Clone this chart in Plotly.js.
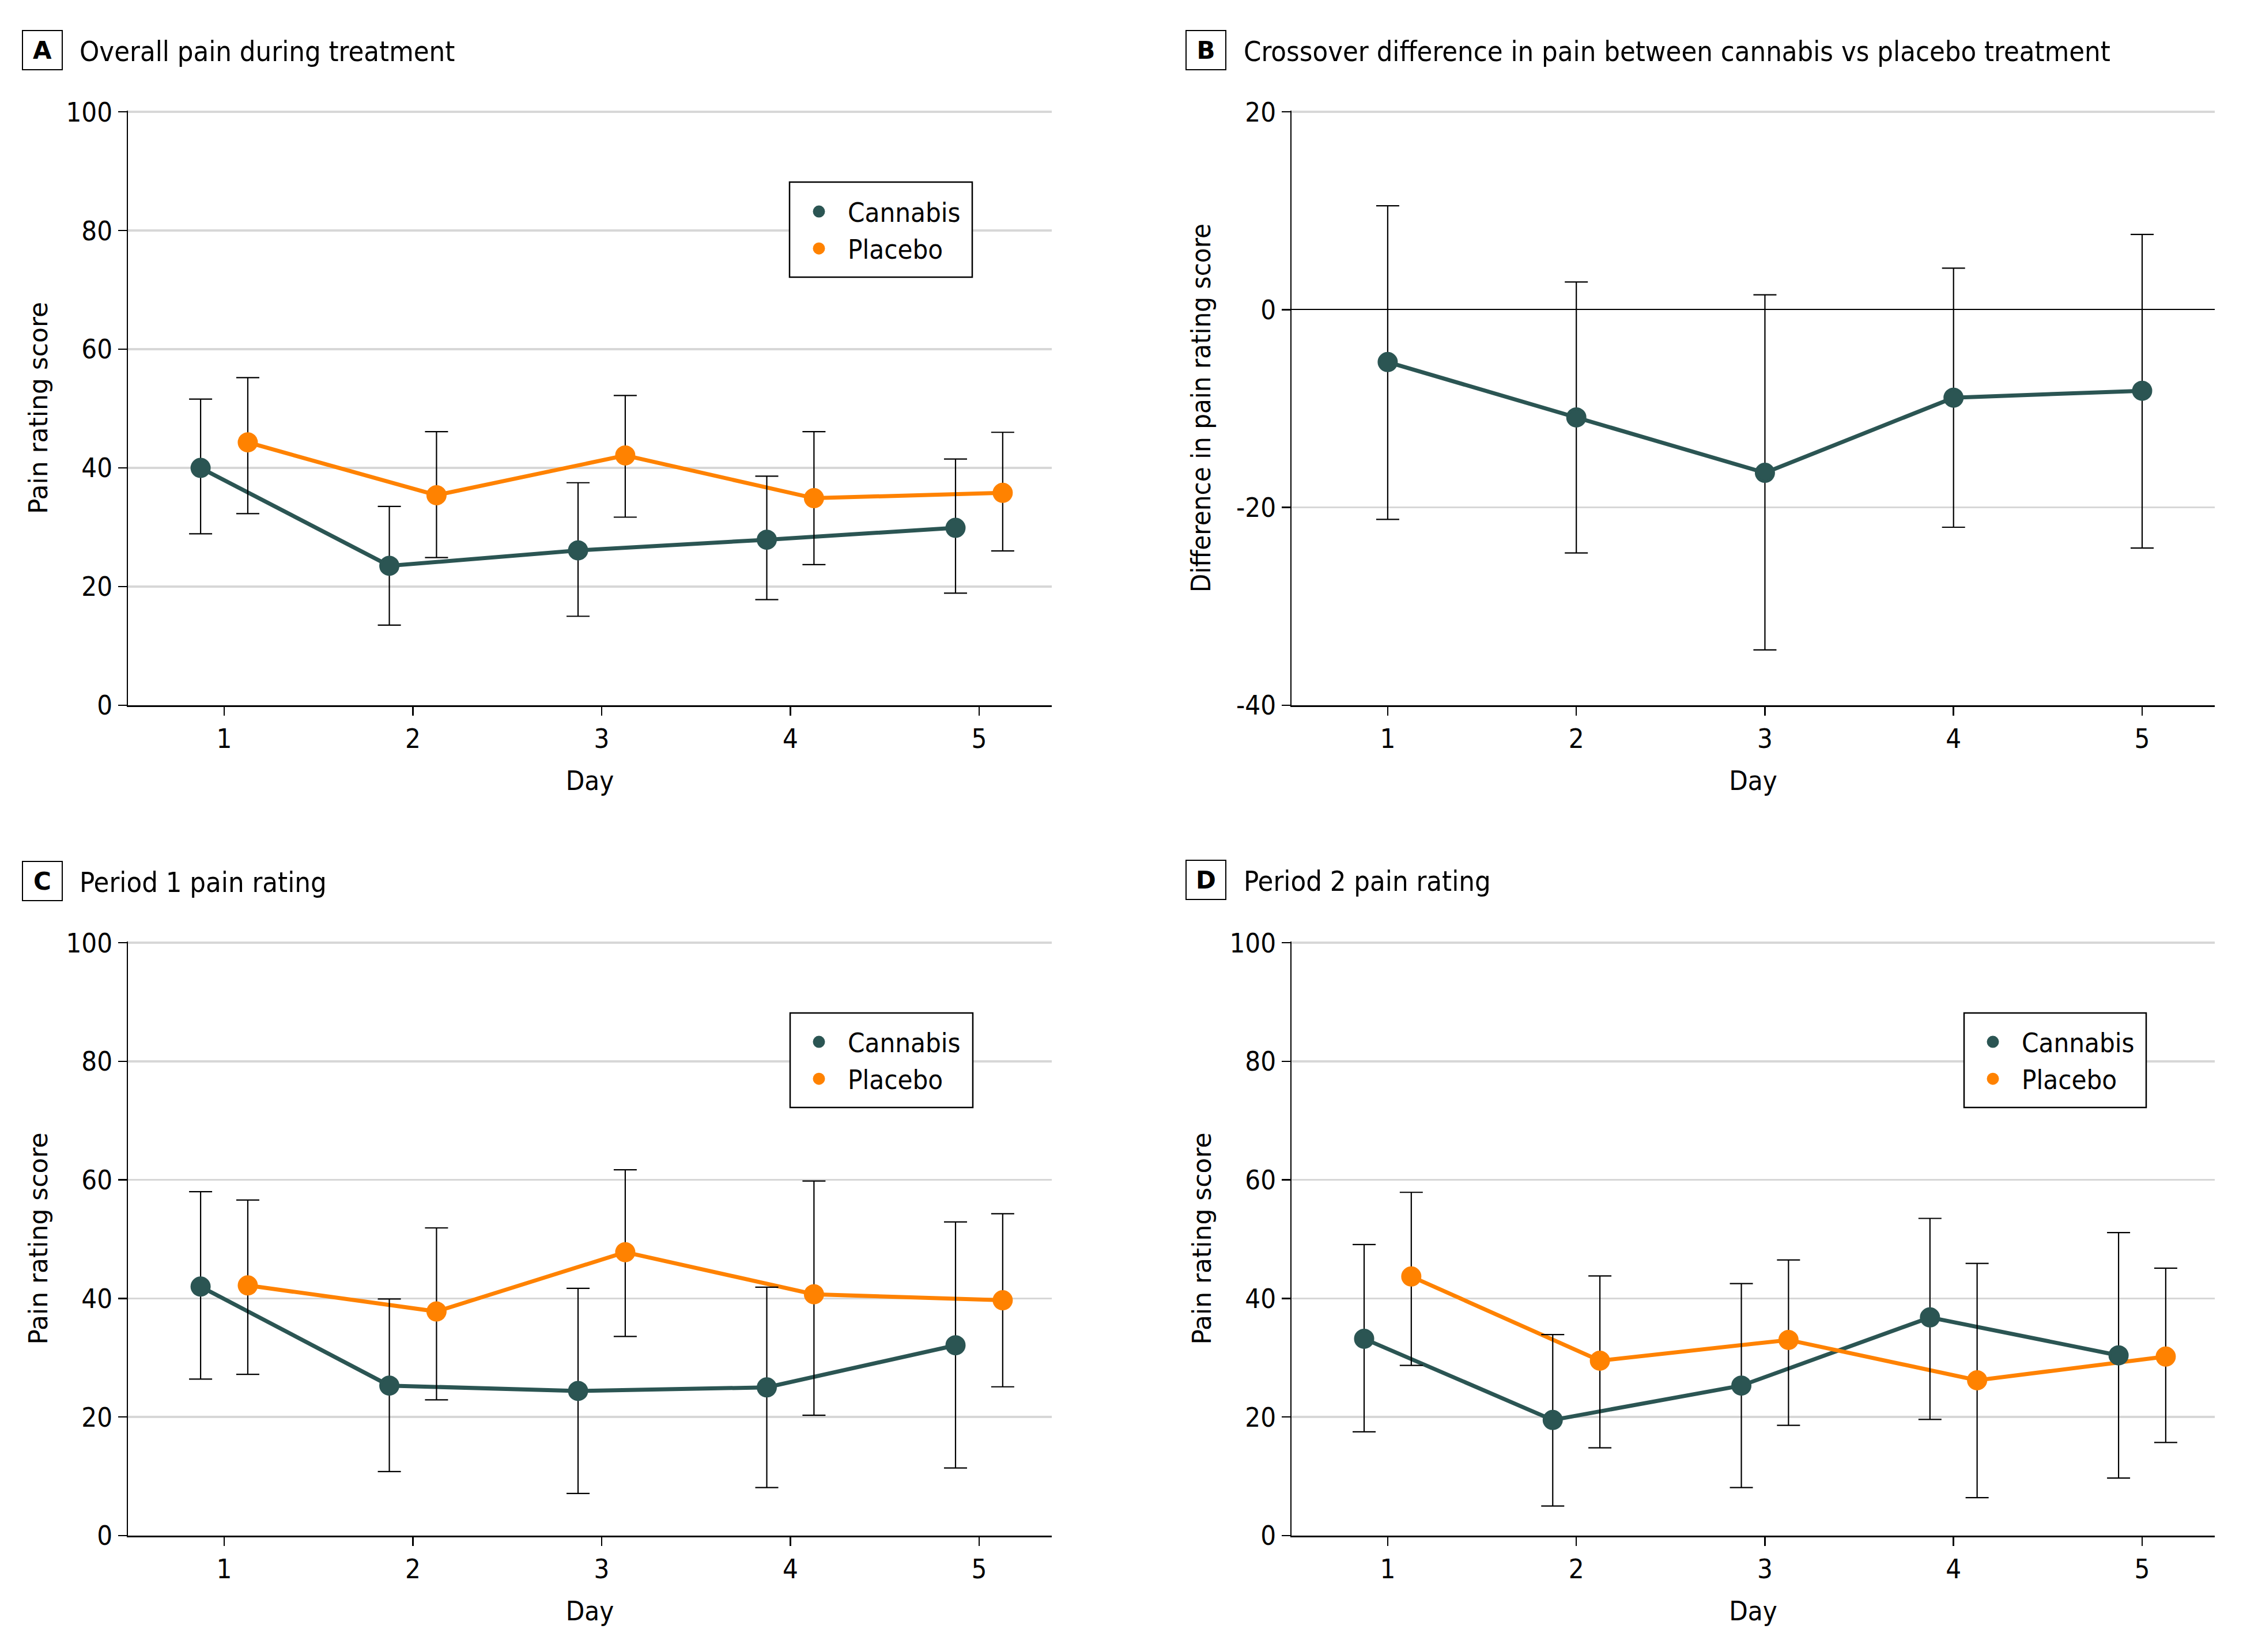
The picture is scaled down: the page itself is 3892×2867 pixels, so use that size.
<!DOCTYPE html>
<html>
<head>
<meta charset="utf-8">
<script src="https://cdn.plot.ly/plotly-3.0.1.min.js"></script>
<style>
html, body { margin: 0; padding: 0; background: #ffffff; }
#chart { width: 3892px; height: 2867px; }
</style>
</head>
<body>
<div id="chart"></div>
<script>
// ---------------- data ----------------
const days = [1, 2, 3, 4, 5];
const dayTickLabels = ['1', '2', '3', '4', '5'];
const painTicks = [0, 20, 40, 60, 80, 100];
const painTickLabels = ['0', '20', '40', '60', '80', '100'];
const diffTicks = [-40, -20, 0, 20];
const diffTickLabels = ['-40', '-20', '0', '20'];
const seriesNames = ['Cannabis', 'Placebo'];

// Panel A: overall pain during treatment
const aCannabisMean  = [40.0, 23.5, 26.1, 27.9, 29.9];
const aCannabisLower = [28.9, 13.5, 15.0, 17.8, 18.9];
const aCannabisUpper = [51.6, 33.5, 37.5, 38.6, 41.5];
const aPlaceboMean   = [44.3, 35.4, 42.1, 34.9, 35.8];
const aPlaceboLower  = [32.3, 24.9, 31.7, 23.7, 26.0];
const aPlaceboUpper  = [55.2, 46.1, 52.2, 46.1, 46.0];

// Panel B: crossover difference (cannabis - placebo)
const bDiffMean  = [-5.3, -10.9, -16.5, -8.9, -8.2];
const bDiffLower = [-21.2, -24.6, -34.4, -22.0, -24.1];
const bDiffUpper = [10.5, 2.8, 1.5, 4.2, 7.6];

// Panel C: period 1
const cCannabisMean  = [42.0, 25.3, 24.4, 25.0, 32.1];
const cCannabisLower = [26.4, 10.8, 7.1, 8.1, 11.4];
const cCannabisUpper = [58.0, 39.9, 41.7, 41.9, 52.9];
const cPlaceboMean   = [42.2, 37.8, 47.8, 40.7, 39.7];
const cPlaceboLower  = [27.2, 22.9, 33.6, 20.3, 25.1];
const cPlaceboUpper  = [56.6, 51.9, 61.7, 59.8, 54.3];

// Panel D: period 2
const dCannabisMean  = [33.2, 19.5, 25.3, 36.8, 30.4];
const dCannabisLower = [17.5, 5.0, 8.1, 19.6, 9.7];
const dCannabisUpper = [49.1, 33.9, 42.5, 53.5, 51.1];
const dPlaceboMean   = [43.7, 29.5, 33.0, 26.2, 30.2];
const dPlaceboLower  = [28.7, 14.8, 18.6, 6.4, 15.7];
const dPlaceboUpper  = [57.9, 43.8, 46.5, 45.9, 45.1];

// ---------------- style ----------------
const W = 3892, H = 2867;
const COND = "'DejaVu Sans Condensed', 'DejaVu Sans', sans-serif";
const WIDE = "'DejaVu Sans', sans-serif";
const CANNABIS = '#2b5553';
const PLACEBO = '#ff8200';
const GRID = '#d7d7d7';
const DODGE = 0.125;

function px(x) { return x / W; }
function py(y) { return 1 - y / H; }

function lineTrace(xa, ya, xs, ys, color) {
  return {
    type: 'scatter', mode: 'lines', x: xs, y: ys, xaxis: xa, yaxis: ya,
    line: { color: color, width: 7 }, showlegend: false, hoverinfo: 'skip'
  };
}
function markerTrace(xa, ya, xs, mean, lower, upper, color, name, legendId, show) {
  return {
    type: 'scatter', mode: 'markers', name: name, x: xs, y: mean, xaxis: xa, yaxis: ya,
    marker: { color: color, size: 30, line: { color: color, width: 5 } },
    error_y: {
      type: 'data', symmetric: false,
      array: upper.map((u, i) => u - mean[i]),
      arrayminus: lower.map((l, i) => mean[i] - l),
      color: '#000000', thickness: 2.2, width: 20
    },
    showlegend: show, legend: legendId
  };
}

const xLeft = days.map(d => d - DODGE);
const xRight = days.map(d => d + DODGE);

const traces = [
  // A
  lineTrace('x', 'y', xLeft, aCannabisMean, CANNABIS),
  lineTrace('x', 'y', xRight, aPlaceboMean, PLACEBO),
  markerTrace('x', 'y', xLeft, aCannabisMean, aCannabisLower, aCannabisUpper, CANNABIS, seriesNames[0], 'legend', true),
  markerTrace('x', 'y', xRight, aPlaceboMean, aPlaceboLower, aPlaceboUpper, PLACEBO, seriesNames[1], 'legend', true),
  // B
  lineTrace('x2', 'y2', days, bDiffMean, CANNABIS),
  markerTrace('x2', 'y2', days, bDiffMean, bDiffLower, bDiffUpper, CANNABIS, 'Difference', 'legend', false),
  // C
  lineTrace('x3', 'y3', xLeft, cCannabisMean, CANNABIS),
  lineTrace('x3', 'y3', xRight, cPlaceboMean, PLACEBO),
  markerTrace('x3', 'y3', xLeft, cCannabisMean, cCannabisLower, cCannabisUpper, CANNABIS, seriesNames[0], 'legend2', true),
  markerTrace('x3', 'y3', xRight, cPlaceboMean, cPlaceboLower, cPlaceboUpper, PLACEBO, seriesNames[1], 'legend2', true),
  // D
  lineTrace('x4', 'y4', xLeft, dCannabisMean, CANNABIS),
  lineTrace('x4', 'y4', xRight, dPlaceboMean, PLACEBO),
  markerTrace('x4', 'y4', xLeft, dCannabisMean, dCannabisLower, dCannabisUpper, CANNABIS, seriesNames[0], 'legend3', true),
  markerTrace('x4', 'y4', xRight, dPlaceboMean, dPlaceboLower, dPlaceboUpper, PLACEBO, seriesNames[1], 'legend3', true)
];

const tickFont = { family: COND, size: 47, color: '#000' };

function xAxis(domain, anchor) {
  return {
    domain: domain, anchor: anchor, range: [0.49, 5.385],
    tickmode: 'array', tickvals: days, ticktext: dayTickLabels,
    showline: true, linecolor: '#000', linewidth: 2.5,
    ticks: 'outside', ticklen: 15, tickwidth: 2.5, tickcolor: '#000',
    showgrid: false, zeroline: false, tickfont: tickFont,
    title: { text: 'Day', font: { family: COND, size: 47, color: '#000' }, standoff: 30 },
    fixedrange: true
  };
}
function yAxis(domain, anchor, range, vals, labels, titleText, titleFamily, titleSize, zero, standoff) {
  return {
    domain: domain, anchor: anchor, range: range,
    tickmode: 'array', tickvals: vals, ticktext: labels,
    showline: true, linecolor: '#000', linewidth: 2.5,
    ticks: 'outside', ticklen: 15, tickwidth: 2.5, tickcolor: '#000',
    showgrid: true, gridcolor: GRID, gridwidth: 3.5,
    zeroline: zero, zerolinecolor: '#000', zerolinewidth: 2,
    tickfont: tickFont,
    title: { text: titleText, font: { family: titleFamily, size: titleSize, color: '#000' }, standoff: standoff },
    fixedrange: true
  };
}

const colL = [px(222), px(1825)];
const colR = [px(2241), px(3843)];
const rowT = [py(1224), py(192)];
const rowB = [py(2665), py(1634)];

function panelLabel(letter, cx, cy) {
  return {
    xref: 'paper', yref: 'paper', x: px(cx), y: py(cy), xanchor: 'center', yanchor: 'middle',
    text: '<b>' + letter + '</b>', showarrow: false,
    font: { family: WIDE, size: 42, color: '#000' },
    width: 67, height: 66, bordercolor: '#000', borderwidth: 2, borderpad: 0
  };
}
function panelTitle(text, lx, cy) {
  return {
    xref: 'paper', yref: 'paper', x: px(lx), y: py(cy), xanchor: 'left', yanchor: 'middle',
    text: text, showarrow: false, font: { family: COND, size: 48.5, color: '#000' }
  };
}
function legendBox(x0, y0, x1, y1) {
  return {
    type: 'rect', xref: 'paper', yref: 'paper', x0: px(x0), x1: px(x1), y0: py(y0), y1: py(y1),
    line: { color: '#000', width: 2.5 }, fillcolor: '#ffffff', layer: 'above'
  };
}
function legendCfg(lx, ty) {
  return {
    x: px(lx), y: py(ty), xanchor: 'left', yanchor: 'top',
    bgcolor: 'rgba(0,0,0,0)', borderwidth: 0, itemwidth: 90,
    font: { family: COND, size: 47, color: '#000' }, tracegroupgap: 0
  };
}

const layout = {
  width: W, height: H, autosize: false,
  margin: { l: 0, r: 0, t: 0, b: 0, pad: 0 },
  paper_bgcolor: '#ffffff', plot_bgcolor: '#ffffff',
  showlegend: true,
  font: { family: COND, size: 47, color: '#000' },
  xaxis: xAxis(colL, 'y'),
  yaxis: yAxis(rowT, 'x', [0, 100.2], painTicks, painTickLabels, 'Pain rating score', WIDE, 44, false, 18),
  xaxis2: xAxis(colR, 'y2'),
  yaxis2: yAxis(rowT, 'x2', [-40, 20.12], diffTicks, diffTickLabels, 'Difference in pain rating score', COND, 47, true, 30),
  xaxis3: xAxis(colL, 'y3'),
  yaxis3: yAxis(rowB, 'x3', [0, 100.2], painTicks, painTickLabels, 'Pain rating score', WIDE, 44, false, 18),
  xaxis4: xAxis(colR, 'y4'),
  yaxis4: yAxis(rowB, 'x4', [0, 100.2], painTicks, painTickLabels, 'Pain rating score', WIDE, 44, false, 18),
  legend: legendCfg(1371, 330),
  legend2: legendCfg(1371, 1771),
  legend3: legendCfg(3408, 1771),
  shapes: [
    legendBox(1370, 316, 1687, 481),
    legendBox(1371, 1758, 1688, 1922),
    legendBox(3408, 1758, 3724, 1922)
  ],
  annotations: [
    panelLabel('A', 73, 87),
    panelTitle('Overall pain during treatment', 136, 89),
    panelLabel('B', 2092, 87),
    panelTitle('Crossover difference in pain between cannabis vs placebo treatment', 2156, 89),
    panelLabel('C', 73, 1529),
    panelTitle('Period 1 pain rating', 136, 1531),
    panelLabel('D', 2092, 1527),
    panelTitle('Period 2 pain rating', 2156, 1529)
  ]
};

Plotly.newPlot('chart', traces, layout, { displayModeBar: false, staticPlot: true });
</script>
</body>
</html>
